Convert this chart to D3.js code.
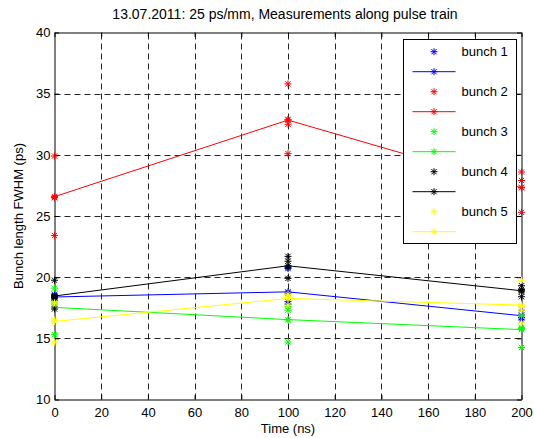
<!DOCTYPE html>
<html>
<head>
<meta charset="utf-8">
<script src="https://cdn.jsdelivr.net/npm/d3@7"></script>
<style>
  html, body { margin: 0; padding: 0; background: #fff; }
  svg { display: block; }
  text { font-family: "Liberation Sans", Arial, Helvetica, sans-serif; fill: #000; }
</style>
</head>
<body>
<svg id="chart" width="534" height="438"></svg>
<script>
// ---------- data ----------
const titleText = "13.07.2011: 25 ps/mm, Measurements along pulse train";
const xLabel = "Time (ns)";
const yLabel = "Bunch length FWHM (ps)";
const times = [0, 100, 200];
const xTicks = [0, 20, 40, 60, 80, 100, 120, 140, 160, 180, 200];
const yTicks = [10, 15, 20, 25, 30, 35, 40];
const seriesNames = ["bunch 1", "bunch 2", "bunch 3", "bunch 4", "bunch 5"];
const seriesColors = ["#0000ff", "#ff0000", "#00ff00", "#000000", "#ffff00"];

// individual measurements: one list per time (0, 100, 200 ns)
const bunch1Points = [[18.6, 18.5, 18.3, 18.1], [20.7, 18.7, 18.0, 17.8], [17.3, 16.9, 16.7, 16.5]];
const bunch2Points = [[29.9, 26.5, 26.5, 23.4], [35.8, 32.9, 32.5, 30.1], [28.6, 27.9, 27.35, 25.3]];
const bunch3Points = [[19.1, 17.9, 17.8, 15.3], [17.6, 17.3, 16.5, 14.7], [16.85, 15.9, 15.8, 14.25]];
const bunch4Points = [[19.75, 18.4, 18.3, 17.4], [21.7, 21.3, 20.8, 19.9], [19.3, 19.0, 18.8, 18.4]];
const bunch5Points = [[17.9, 16.5, 16.4, 14.7], [18.6, 18.4, 18.3, 17.7], [19.75, 17.6, 17.3, 16.25]];

// mean line values at 0, 100, 200 ns
const bunch1Mean = [18.38, 18.8, 16.85];
const bunch2Mean = [26.58, 32.84, 27.3];
const bunch3Mean = [17.53, 16.53, 15.71];
const bunch4Mean = [18.46, 20.93, 18.89];
const bunch5Mean = [16.38, 18.26, 17.72];

const allPoints = [bunch1Points, bunch2Points, bunch3Points, bunch4Points, bunch5Points];
const allMeans = [bunch1Mean, bunch2Mean, bunch3Mean, bunch4Mean, bunch5Mean];

// ---------- layout ----------
const svg = d3.select("#chart");
const L = 54.5, R = 521.5, T = 32.5, B = 399.5;
const x = d3.scaleLinear().domain([0, 200]).range([L, R]);
const y = d3.scaleLinear().domain([10, 40]).range([B, T]);
const fontSize = 13;
const tickLen = 4.5;

svg.append("rect").attr("width", 534).attr("height", 438).attr("fill", "#fff");
svg.append("rect").attr("x", L).attr("y", T).attr("width", R - L).attr("height", B - T).attr("fill", "#fff");

// grid
const grid = svg.append("g").attr("stroke", "#000").attr("stroke-width", 1).attr("stroke-dasharray", "6,4").attr("opacity", 0.85);
grid.selectAll("line.v").data(xTicks.filter(d => d > 0 && d < 200)).join("line")
  .attr("x1", d => Math.round(x(d)) + 0.5).attr("x2", d => Math.round(x(d)) + 0.5)
  .attr("y1", B).attr("y2", T);
grid.selectAll("line.h").data(yTicks.filter(d => d > 10 && d < 40)).join("line")
  .attr("x1", L).attr("x2", R)
  .attr("y1", d => Math.round(y(d)) + 0.5).attr("y2", d => Math.round(y(d)) + 0.5);

// axes (inward ticks on all four sides)
const fmt = d3.format("d");
const axB = svg.append("g").attr("transform", `translate(0,${B})`)
  .call(d3.axisBottom(x).tickValues(xTicks).tickFormat(fmt).tickSizeInner(-tickLen).tickSizeOuter(0).tickPadding(8));
const axT = svg.append("g").attr("transform", `translate(0,${T})`)
  .call(d3.axisTop(x).tickValues(xTicks).tickFormat("").tickSizeInner(-tickLen).tickSizeOuter(0));
const axL = svg.append("g").attr("transform", `translate(${L},0)`)
  .call(d3.axisLeft(y).tickValues(yTicks).tickFormat(fmt).tickSizeInner(-tickLen).tickSizeOuter(0).tickPadding(4));
const axR = svg.append("g").attr("transform", `translate(${R},0)`)
  .call(d3.axisRight(y).tickValues(yTicks).tickFormat("").tickSizeInner(-tickLen).tickSizeOuter(0));
[axB, axT, axL, axR].forEach(g => {
  g.selectAll("text").style("font-family", '"Liberation Sans", Arial, sans-serif').style("font-size", fontSize + "px").attr("fill", "#000");
  g.selectAll("line").attr("stroke", "#000");
  g.select(".domain").attr("stroke", "#000");
});

// star marker path
function starPath(r) {
  const d = r * 0.75;
  return `M${-r},0L${r},0M0,${-r}L0,${r}M${-d},${-d}L${d},${d}M${-d},${d}L${d},${-d}`;
}
const star = starPath(3.5);

// series
const line = d3.line().x((d, i) => x(times[i])).y(d => y(d));
allPoints.forEach((pts, s) => {
  const color = seriesColors[s];
  const g = svg.append("g");
  const flat = [];
  pts.forEach((vals, ti) => vals.forEach(v => flat.push({ t: times[ti], v })));
  g.selectAll("path.pt").data(flat).join("path")
    .attr("d", star).attr("transform", d => `translate(${x(d.t)},${y(d.v)})`)
    .attr("stroke", color).attr("stroke-width", 1).attr("fill", "none");
  const gl = svg.append("g");
  gl.append("path").datum(allMeans[s]).attr("d", line).attr("stroke", color).attr("stroke-width", 1).attr("fill", "none");
  gl.selectAll("path.m").data(allMeans[s]).join("path")
    .attr("d", star).attr("transform", (d, i) => `translate(${x(times[i])},${y(d)})`)
    .attr("stroke", color).attr("stroke-width", 1).attr("fill", "none");
});

// title and labels
svg.append("text").attr("x", 285).attr("y", 19).attr("text-anchor", "middle")
  .style("font-size", "14px").text(titleText);
svg.append("text").attr("x", (L + R) / 2).attr("y", 433).attr("text-anchor", "middle")
  .style("font-size", fontSize + "px").text(xLabel);
svg.append("text").attr("transform", `translate(23,${(T + B) / 2}) rotate(-90)`).attr("text-anchor", "middle")
  .style("font-size", fontSize + "px").text(yLabel);

// legend
const lg = svg.append("g");
const lx = 403.5, ly = 39.5, lw = 113, lh = 204;
lg.append("rect").attr("x", lx).attr("y", ly).attr("width", lw).attr("height", lh)
  .attr("fill", "#fff").attr("stroke", "#000").attr("stroke-width", 1);
seriesNames.forEach((name, s) => {
  const color = seriesColors[s];
  const r1 = 51.7 + 40 * s, r2 = r1 + 20;
  lg.append("path").attr("d", star).attr("transform", `translate(434,${r1})`)
    .attr("stroke", color).attr("fill", "none");
  lg.append("text").attr("x", 461.5).attr("y", r1).attr("dy", "0.35em")
    .style("font-size", fontSize + "px").text(name);
  lg.append("line").attr("x1", 412.5).attr("x2", 455.5).attr("y1", r2).attr("y2", r2)
    .attr("stroke", color).attr("stroke-width", 1);
  lg.append("path").attr("d", star).attr("transform", `translate(434,${r2})`)
    .attr("stroke", color).attr("fill", "none");
});
</script>
</body>
</html>
